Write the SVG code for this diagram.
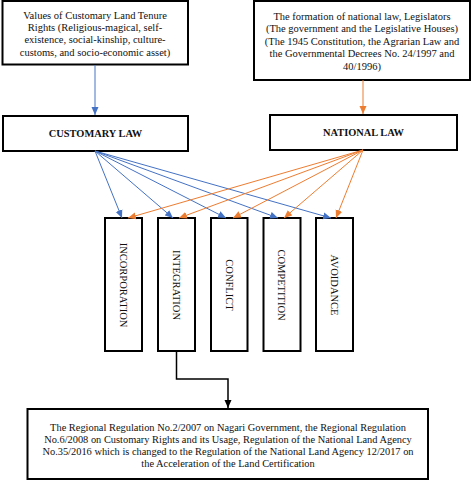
<svg xmlns="http://www.w3.org/2000/svg" width="474" height="482" viewBox="0 0 474 482">
<style>
.box{fill:#fff;stroke:#000;stroke-width:2}
.t{font-size:10.5px;fill:#111;text-anchor:middle}
.s{font-size:10.4px}
.b{font-weight:bold;font-size:10.4px}
.v{font-size:10.5px;fill:#111;text-anchor:middle;dominant-baseline:central}
.bl{stroke:#4472C4;stroke-width:1;fill:none}
.or{stroke:#ED7D31;stroke-width:1;fill:none}
.bk{stroke:#000;stroke-width:1.5;fill:none}
</style>
<defs>
<marker id="ab" markerUnits="userSpaceOnUse" markerWidth="8" markerHeight="8" viewBox="0 0 8 8" refX="8" refY="4" orient="auto"><path d="M0,0.5 L8,4 L0,7.5 Z" fill="#4472C4"/></marker>
<marker id="ao" markerUnits="userSpaceOnUse" markerWidth="8" markerHeight="8" viewBox="0 0 8 8" refX="8" refY="4" orient="auto"><path d="M0,0.5 L8,4 L0,7.5 Z" fill="#ED7D31"/></marker>
<marker id="ak" markerUnits="userSpaceOnUse" markerWidth="8" markerHeight="8" viewBox="0 0 8 8" refX="8" refY="4" orient="auto"><path d="M0,0.5 L8,4 L0,7.5 Z" fill="#000"/></marker>
</defs>
<rect width="474" height="482" fill="#fff"/>
<g font-family="'Liberation Serif', 'Times New Roman', Tinos, 'DejaVu Serif', serif">
<g id="values">
<rect class="box" x="2.5" y="1" width="185.5" height="63.5"/>
<text class="t" x="95" y="18.8">Values of Customary Land Tenure</text>
<text class="t" x="95" y="31.1">Rights (Religious-magical, self-</text>
<text class="t" x="95" y="43.4">existence, social-kinship, culture-</text>
<text class="t" x="95" y="55.7">customs, and socio-economic asset)</text>
</g>
<g id="formation">
<rect class="box" x="254" y="1" width="216" height="79"/>
<text class="t" x="362" y="19.7">The formation of national law, Legislators</text>
<text class="t" x="362" y="32.2">(The government and the Legislative Houses)</text>
<text class="t" x="362" y="44.7">(The 1945 Constitution, the Agrarian Law and</text>
<text class="t" x="362" y="57.2">the Governmental Decrees No. 24/1997 and</text>
<text class="t" x="362" y="69.7">40/1996)</text>
</g>
<g id="customary">
<rect class="box" x="3" y="116" width="185" height="35"/>
<text class="t b" x="95.5" y="137.3">CUSTOMARY LAW</text>
</g>
<g id="national">
<rect class="box" x="270" y="115" width="187" height="35"/>
<text class="t b" x="363.5" y="136.3">NATIONAL LAW</text>
</g>
<g id="incorporation">
<rect class="box" x="105" y="218" width="37" height="133"/>
<text class="v" transform="translate(123,285) rotate(90)">INCORPORATION</text>
</g>
<g id="integration">
<rect class="box" x="158" y="218" width="37" height="133"/>
<text class="v" transform="translate(176,285) rotate(90)">INTEGRATION</text>
</g>
<g id="conflict">
<rect class="box" x="211" y="218" width="36.5" height="133"/>
<text class="v" transform="translate(229,285) rotate(90)">CONFLICT</text>
</g>
<g id="competition">
<rect class="box" x="263.5" y="218" width="37" height="133"/>
<text class="v" transform="translate(281.5,285) rotate(90)">COMPETITION</text>
</g>
<g id="avoidance">
<rect class="box" x="316" y="218" width="37" height="133"/>
<text class="v" transform="translate(334,285) rotate(90)">AVOIDANCE</text>
</g>
<g id="regulations">
<rect class="box" x="27.5" y="409" width="400.5" height="70"/>
<text class="t s" x="228" y="430.7">The Regional Regulation No.2/2007 on Nagari Government, the Regional Regulation</text>
<text class="t s" x="228" y="442.7">No.6/2008 on Customary Rights and its Usage, Regulation of the National Land Agency</text>
<text class="t s" x="228" y="454.7">No.35/2016 which is changed to the Regulation of the National Land Agency 12/2017 on</text>
<text class="t s" x="228" y="466.7">the Acceleration of the Land Certification</text>
</g>
</g>
<g id="connectors">
<line class="bl" x1="95" y1="65" x2="95" y2="115" marker-end="url(#ab)"/>
<line class="or" x1="363" y1="80" x2="363" y2="114" marker-end="url(#ao)"/>
<line class="bl" x1="95" y1="151" x2="122" y2="218" marker-end="url(#ab)"/>
<line class="bl" x1="95" y1="151" x2="173" y2="218" marker-end="url(#ab)"/>
<line class="bl" x1="95" y1="151" x2="226" y2="218" marker-end="url(#ab)"/>
<line class="bl" x1="95" y1="151" x2="278" y2="218" marker-end="url(#ab)"/>
<line class="bl" x1="95" y1="151" x2="331" y2="218" marker-end="url(#ab)"/>
<line class="or" x1="363" y1="150" x2="128" y2="218" marker-end="url(#ao)"/>
<line class="or" x1="363" y1="150" x2="179" y2="218" marker-end="url(#ao)"/>
<line class="or" x1="363" y1="150" x2="233" y2="218" marker-end="url(#ao)"/>
<line class="or" x1="363" y1="150" x2="284" y2="218" marker-end="url(#ao)"/>
<line class="or" x1="363" y1="150" x2="336" y2="218" marker-end="url(#ao)"/>
<polyline class="bk" points="176.5,351 176.5,379 228,379 228,408" marker-end="url(#ak)"/>
</g>
</svg>
